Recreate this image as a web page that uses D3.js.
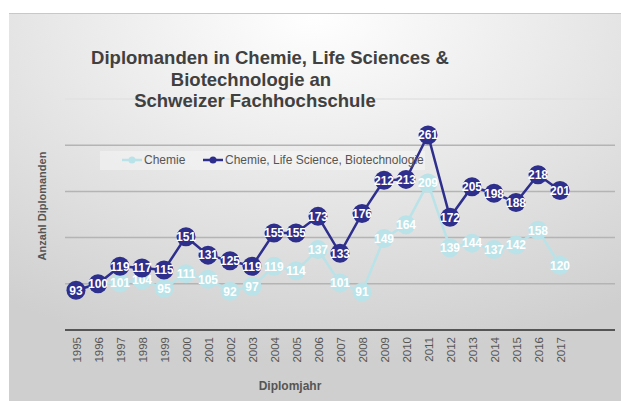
<!DOCTYPE html>
<html>
<head>
<meta charset="utf-8">
<script src="https://cdn.jsdelivr.net/npm/d3@7"></script>
<style>
  body { margin: 0; background: #fff; }
  svg text { font-family: "Liberation Sans", Arial, sans-serif; }
</style>
</head>
<body>
<div id="chart"></div>
<script>
// données
const years = ["1995", "1996", "1997", "1998", "1999", "2000", "2001", "2002", "2003", "2004", "2005", "2006",
  "2007", "2008", "2009", "2010", "2011", "2012", "2013", "2014", "2015", "2016", "2017"];
const chemie = [93, 100, 101, 104, 95, 111, 105, 92, 97, 119, 114, 137, 101, 91, 149, 164, 209, 139, 144, 137, 142, 158, 120];
const total = [93, 100, 119, 117, 115, 151, 131, 125, 119, 155, 155, 173, 133, 176, 212, 213, 261, 172, 205, 198, 188, 218, 201];
const gridValues = [100, 150, 200, 250, 300];
const titleLines = ["Diplomanden in Chemie, Life Sciences &", "Biotechnologie an", "Schweizer Fachhochschule"];

const width = 621;
const height = 401;

const svg = d3.select("#chart").append("svg")
  .attr("width", width)
  .attr("height", height);

// fond dégradé
const defs = svg.append("defs");
const grad = defs.append("radialGradient")
  .attr("id", "bg")
  .attr("cx", "50%").attr("cy", "0%").attr("r", "90%");
grad.append("stop").attr("offset", "0%").attr("stop-color", "#ffffff");
grad.append("stop").attr("offset", "100%").attr("stop-color", "#cfcfcf");

svg.append("rect")
  .attr("x", 9).attr("y", 13)
  .attr("width", width - 9).attr("height", height - 13)
  .attr("fill", "url(#bg)");
svg.append("line")
  .attr("x1", 9).attr("x2", width).attr("y1", 13.5).attr("y2", 13.5)
  .attr("stroke", "#c8c8c8");

// échelles
const x = d3.scalePoint().domain(years).range([76, 560]);
const y = d3.scaleLinear().domain([50, 300]).range([330, 99]);

// lignes de grille
svg.append("g")
  .selectAll("line")
  .data(gridValues)
  .join("line")
  .attr("x1", 65).attr("x2", 615)
  .attr("y1", d => y(d)).attr("y2", d => y(d))
  .attr("stroke", d => d === 300 ? "#e2e2e2" : "#b4b4b4")
  .attr("stroke-width", 1.5);

// axe x
const xAxis = svg.append("g")
  .attr("transform", `translate(0,${y(50)})`)
  .call(d3.axisBottom(x).tickSize(0).tickPadding(0));
xAxis.select(".domain").remove();
svg.append("line")
  .attr("x1", 65).attr("x2", 615)
  .attr("y1", y(50)).attr("y2", y(50))
  .attr("stroke", "#555")
  .attr("stroke-width", 2);
xAxis.selectAll("text")
  .attr("transform", "rotate(-90)")
  .attr("text-anchor", "end")
  .attr("x", -7)
  .attr("y", 0)
  .attr("dy", "0.35em")
  .attr("fill", "#555")
  .attr("font-size", 11.5);

// titre
svg.append("g")
  .selectAll("text")
  .data(titleLines)
  .join("text")
  .attr("x", (d, i) => [270, 251, 255][i])
  .attr("y", (d, i) => 64 + i * 21.5)
  .attr("text-anchor", "middle")
  .attr("font-size", 18.5)
  .attr("font-weight", "bold")
  .attr("fill", "#404040")
  .text(d => d);

// titres des axes
svg.append("text")
  .attr("transform", "translate(46,206) rotate(-90)")
  .attr("text-anchor", "middle")
  .attr("font-size", 11)
  .attr("font-weight", "bold")
  .attr("fill", "#555")
  .text("Anzahl Diplomanden");
svg.append("text")
  .attr("x", 290).attr("y", 390)
  .attr("text-anchor", "middle")
  .attr("font-size", 12)
  .attr("font-weight", "bold")
  .attr("fill", "#555")
  .text("Diplomjahr");

// fond de la légende
svg.append("rect")
  .attr("x", 100).attr("y", 151)
  .attr("width", 325).attr("height", 19)
  .attr("fill", "#ffffff")
  .attr("opacity", 0.35);

// séries
const series = [
  { name: "Chemie", values: chemie, color: "#b9e3e8", lx: 122 },
  { name: "Chemie, Life Science, Biotechnologie", values: total, color: "#2e2e8c", lx: 203 }
];

const line = d3.line()
  .x((d, i) => x(years[i]))
  .y(d => y(d));

series.forEach(function (s) {
  const g = svg.append("g");
  g.append("path")
    .datum(s.values)
    .attr("d", line)
    .attr("fill", "none")
    .attr("stroke", s.color)
    .attr("stroke-width", 2.5);
  g.selectAll("circle")
    .data(s.values)
    .join("circle")
    .attr("cx", (d, i) => x(years[i]))
    .attr("cy", d => y(d))
    .attr("r", 9.5)
    .attr("fill", s.color);
  g.selectAll("text")
    .data(s.values)
    .join("text")
    .attr("x", (d, i) => x(years[i]))
    .attr("y", d => y(d))
    .attr("dy", "0.36em")
    .attr("text-anchor", "middle")
    .attr("font-size", 12)
    .attr("font-weight", "bold")
    .attr("fill", "#fff")
    .text(d => d);

  // légende
  const lg = svg.append("g");
  lg.append("line")
    .attr("x1", s.lx).attr("x2", s.lx + 20)
    .attr("y1", 160).attr("y2", 160)
    .attr("stroke", s.color).attr("stroke-width", 2.5);
  lg.append("circle")
    .attr("cx", s.lx + 10).attr("cy", 160).attr("r", 3.5)
    .attr("fill", s.color);
  lg.append("text")
    .attr("x", s.lx + 22).attr("y", 160)
    .attr("dy", "0.35em")
    .attr("font-size", 12)
    .attr("fill", "#555")
    .text(s.name);
});
</script>
</body>
</html>
